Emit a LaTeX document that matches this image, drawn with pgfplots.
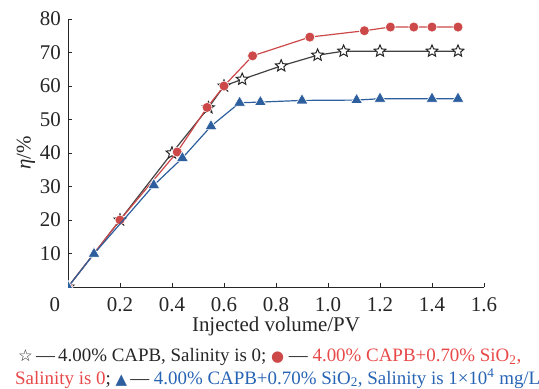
\documentclass[border=0pt]{standalone}
\usepackage{fontspec}
\setmainfont{Liberation Serif}
\newfontfamily\sym{DejaVu Sans}
\usepackage{pgfplots}
\pgfplotsset{compat=1.18}
\definecolor{cred}{RGB}{205,72,72}
\definecolor{cblue}{RGB}{45,95,158}
\definecolor{cgray}{RGB}{65,65,65}
\definecolor{tred}{RGB}{232,72,72}
\definecolor{tblue}{RGB}{40,100,180}
\pgfdeclareplotmark{ostar}{%
  \pgfpathmoveto{\pgfpointpolar{90}{\pgfplotmarksize}}%
  \pgfpathlineto{\pgfpointpolar{126}{0.45\pgfplotmarksize}}%
  \pgfpathlineto{\pgfpointpolar{162}{\pgfplotmarksize}}%
  \pgfpathlineto{\pgfpointpolar{198}{0.45\pgfplotmarksize}}%
  \pgfpathlineto{\pgfpointpolar{234}{\pgfplotmarksize}}%
  \pgfpathlineto{\pgfpointpolar{270}{0.45\pgfplotmarksize}}%
  \pgfpathlineto{\pgfpointpolar{306}{\pgfplotmarksize}}%
  \pgfpathlineto{\pgfpointpolar{342}{0.45\pgfplotmarksize}}%
  \pgfpathlineto{\pgfpointpolar{18}{\pgfplotmarksize}}%
  \pgfpathlineto{\pgfpointpolar{54}{0.45\pgfplotmarksize}}%
  \pgfpathclose
  \pgfusepathqfillstroke}
\begin{document}
\begin{tikzpicture}
\path[use as bounding box] (-68bp,-102bp) rectangle (471bp,287bp);
\begin{axis}[
  at={(0,0)}, anchor=south west,
  scale only axis, width=416bp, height=268bp,
  xmin=0, xmax=1.6, ymin=0, ymax=80,
  clip marker paths=true,
  axis x line*=bottom, axis y line*=left,
  axis line style={-, line width=1bp, black!85},
  tick style={line width=0.8bp, black!85},
  tick align=inside, major tick length=4bp,
  xtick={0,0.2,0.4,0.6,0.8,1.0,1.2,1.4,1.6},
  xticklabels={\llap{0\hspace{8bp}},0.2,0.4,0.6,0.8,1.0,1.2,1.4,1.6},
  ytick={10,20,30,40,50,60,70,80},
  /pgf/number format/assume math mode=true,
  ticklabel style={font=\fontsize{21}{24}\selectfont, text=black!85},
  xticklabel style={anchor=base, inner sep=0pt, yshift=-24.5bp},
  yticklabel style={anchor=east, inner sep=0pt, xshift=-7bp},
]
\addplot[cgray, line width=1.2bp, mark=ostar, mark size=6.2bp,
  mark options={fill=white, draw=black!85, line width=1bp}] coordinates {
  (0,0) (0.2,20) (0.4,40) (0.54,53.5) (0.6,60) (0.67,62) (0.82,66)
  (0.96,69.2) (1.06,70.4) (1.2,70.4) (1.4,70.4) (1.5,70.4)};
\addplot[cred, line width=1.2bp, mark=*, mark size=5bp,
  mark options={fill=cred, draw=white, line width=0.6bp}] coordinates {
  (0,0) (0.2,20) (0.42,40.3) (0.535,53.6) (0.6,60) (0.71,69) (0.93,74.6)
  (1.14,76.5) (1.24,77.6) (1.33,77.6) (1.4,77.6) (1.5,77.6)};
\addplot[cblue, line width=1.2bp, mark=triangle*, mark size=6.8bp,
  mark options={fill=cblue, draw=white, line width=0.6bp}] coordinates {
  (0,0) (0.1,9.9) (0.33,30.4) (0.44,38.5) (0.55,48) (0.66,55) (0.74,55.2)
  (0.9,55.7) (1.11,55.8) (1.2,56.2) (1.4,56.2) (1.5,56.2)};
\end{axis}
\node[rotate=90, font=\fontsize{21}{24}\selectfont, text=black!85] at (-42bp,134bp) {{\itshape η}/\%};
\node[anchor=base, inner sep=0pt, font=\fontsize{21}{24}\selectfont, text=black!85] at (208bp,-44bp) {Injected volume/PV};
\node[anchor=base west, inner sep=0pt, font=\fontsize{19}{22}\selectfont, text=black!85] at (-50bp,-74.5bp)
  {{\sym\fontsize{16.5}{16}\selectfont ☆}\,—\,4.00\% CAPB, Salinity is 0; {\color{cred}\sym\fontsize{15}{16}\selectfont ●} — {\color{tred}4.00\% CAPB+0.70\% SiO\textsubscript{2},}};
\node[anchor=base west, inner sep=0pt, font=\fontsize{19}{22}\selectfont, text=tred] at (-53bp,-97bp)
  {Salinity is 0{\color{black!85};} {\color{cblue}\sym\fontsize{15}{16}\selectfont ▲}{\color{black!85}\,—} {\color{tblue}4.00\% CAPB+0.70\% SiO\textsubscript{2}, Salinity is 1×10\textsuperscript{4} mg/L}};
\end{tikzpicture}
\end{document}
